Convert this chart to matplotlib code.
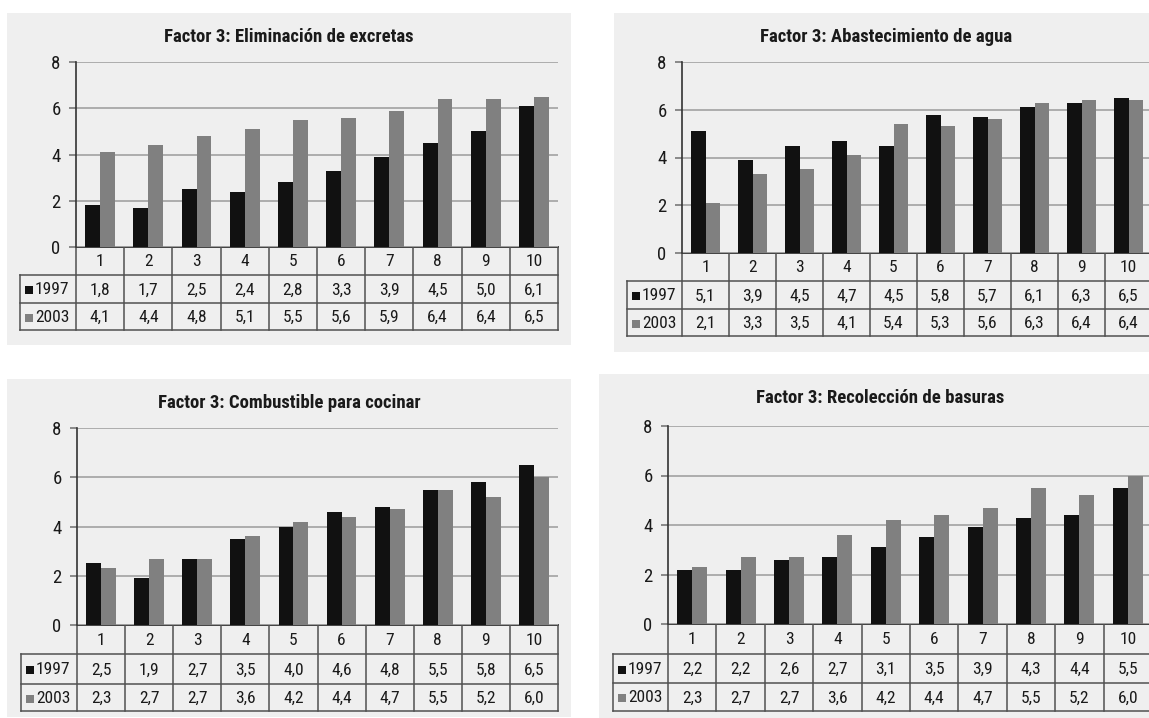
import matplotlib.pyplot as plt
from matplotlib.patches import Rectangle

plt.rcParams["font.family"] = ["Roboto Condensed", "DejaVu Sans"]

W, H = 1149, 718

grupos = list(range(1, 11))
series = ["1997", "2003"]

titulos = [
    "Factor 3: Eliminación de excretas",
    "Factor 3: Abastecimiento de agua",
    "Factor 3: Combustible para cocinar",
    "Factor 3: Recolección de basuras",
]

excretas_1997 = [1.8, 1.7, 2.5, 2.4, 2.8, 3.3, 3.9, 4.5, 5.0, 6.1]
excretas_2003 = [4.1, 4.4, 4.8, 5.1, 5.5, 5.6, 5.9, 6.4, 6.4, 6.5]

agua_1997 = [5.1, 3.9, 4.5, 4.7, 4.5, 5.8, 5.7, 6.1, 6.3, 6.5]
agua_2003 = [2.1, 3.3, 3.5, 4.1, 5.4, 5.3, 5.6, 6.3, 6.4, 6.4]

combustible_1997 = [2.5, 1.9, 2.7, 3.5, 4.0, 4.6, 4.8, 5.5, 5.8, 6.5]
combustible_2003 = [2.3, 2.7, 2.7, 3.6, 4.2, 4.4, 4.7, 5.5, 5.2, 6.0]

basuras_1997 = [2.2, 2.2, 2.6, 2.7, 3.1, 3.5, 3.9, 4.3, 4.4, 5.5]
basuras_2003 = [2.3, 2.7, 2.7, 3.6, 4.2, 4.4, 4.7, 5.5, 5.2, 6.0]

datos = [
    (excretas_1997, excretas_2003),
    (agua_1997, agua_2003),
    (combustible_1997, combustible_2003),
    (basuras_1997, basuras_2003),
]

# layout of each panel in pixels (top-left origin)
# caja, eje izq, eje der, y de 8, filas de la tabla, borde izq tabla, titulo
paneles = [
    dict(caja=(7, 13, 571, 345), xa=76, xr=558, y8=62, filas=(247, 275, 303, 330), xt=20, ty=37, tx=289),
    dict(caja=(614, 13, 1160, 352), xa=682, xr=1152, y8=62, filas=(253, 281, 309, 336), xt=627, ty=37, tx=886),
    dict(caja=(7, 379, 571, 717), xa=77, xr=558, y8=428, filas=(625, 654, 684, 711), xt=21, ty=403, tx=289),
    dict(caja=(599, 374, 1160, 718), xa=668, xr=1152, y8=426, filas=(624, 654, 683, 711), xt=613, ty=398, tx=880),
]

colores = ["#111111", "#808080"]
fondo = "#efefef"
linea_tabla = "#505050"
texto = "#1a1a1a"

fig = plt.figure(figsize=(W / 100, H / 100), dpi=100)
fig.patch.set_facecolor("white")

# overlay axes in pixel coordinates for boxes, titles and tables
base = fig.add_axes([0, 0, 1, 1], zorder=0)
base.set_xlim(0, W)
base.set_ylim(H, 0)
base.axis("off")


def fmt(v):
    return f"{v:.1f}".replace(".", ",")


for p, titulo, (s1, s2) in zip(paneles, titulos, datos):
    x0, y0, x1, y1 = p["caja"]
    base.add_patch(Rectangle((x0, y0), x1 - x0, y1 - y0, facecolor=fondo, edgecolor="none", zorder=0))
    base.text(p["tx"], p["ty"], titulo, ha="center", va="center", fontsize=13.5, fontweight="bold", color=texto)

    xa, xr, y8 = p["xa"], p["xr"], p["y8"]
    yc, r1, r2, yb = p["filas"]

    ax = fig.add_axes([xa / W, 1 - yc / H, (xr - xa) / W, (yc - y8) / H], zorder=2)
    ax.set_facecolor("none")
    ax.set_xlim(0, len(grupos))
    ax.set_ylim(0, 8)
    idx = [i + 0.5 for i in range(len(grupos))]
    bw = 0.31
    ax.bar([i - bw / 2 for i in idx], s1, width=bw, color=colores[0], zorder=3)
    ax.bar([i + bw / 2 for i in idx], s2, width=bw, color=colores[1], zorder=3)
    ax.set_yticks([0, 2, 4, 6, 8])
    ax.set_yticklabels(["0", "2", "4", "6", "8"])
    ax.yaxis.grid(True, color="#a8a8a8", linewidth=1.3, zorder=1)
    ax.set_axisbelow(True)
    ax.set_xticks([])
    for s in ["top", "right", "bottom"]:
        ax.spines[s].set_visible(False)
    ax.spines["left"].set_color("#333333")
    ax.spines["left"].set_linewidth(1.2)
    ax.tick_params(axis="y", length=5, width=1.2, color="#777777", pad=6, labelsize=13.5, labelcolor=texto)

    # data table under the chart
    cw = (xr - xa) / len(grupos)
    lw = 1.1
    base.plot([xa, xr], [yc, yc], color="#333333", lw=1.3, zorder=3)
    for yy in (r1, r2, yb):
        base.plot([p["xt"], xr], [yy, yy], color=linea_tabla, lw=lw, zorder=3)
    base.plot([p["xt"], p["xt"]], [r1, yb], color=linea_tabla, lw=lw, zorder=3)
    for k in range(len(grupos) + 1):
        xx = xa + k * cw
        base.plot([xx, xx], [yc, yb], color=linea_tabla, lw=lw, zorder=3)
    for k, g in enumerate(grupos):
        cx = xa + (k + 0.5) * cw
        base.text(cx, (yc + r1) / 2 + 1, str(g), ha="center", va="center", fontsize=12.5, color=texto)
        base.text(cx, (r1 + r2) / 2 + 1, fmt(s1[k]), ha="center", va="center", fontsize=12.5, color=texto)
        base.text(cx, (r2 + yb) / 2 + 1, fmt(s2[k]), ha="center", va="center", fontsize=12.5, color=texto)
    for fila, (ya, yz) in enumerate([(r1, r2), (r2, yb)]):
        ym = (ya + yz) / 2
        base.add_patch(Rectangle((p["xt"] + 5, ym - 3), 8, 8, facecolor=colores[fila], edgecolor="none", zorder=3))
        base.text(p["xt"] + 15, ym + 1, series[fila], ha="left", va="center", fontsize=12.5, color=texto)

fig.savefig("out.png", dpi=100)
